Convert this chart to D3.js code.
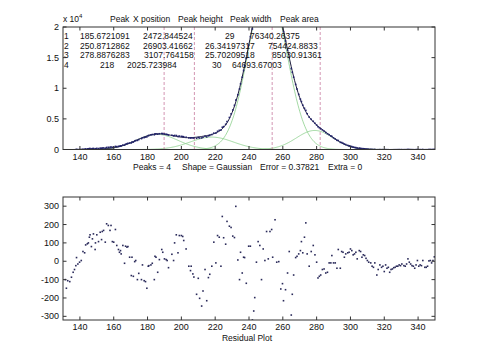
<!DOCTYPE html>
<html>
<head>
<meta charset="utf-8">
<script src="https://cdn.jsdelivr.net/npm/d3@7"></script>
<style>
  body { margin: 0; background: #fff; }
  text { font-family: "Liberation Sans", Arial, sans-serif; fill: #111; }
</style>
</head>
<body>
<script>
// fitted peak parameters (from the results table)
const peakNum = [1, 2, 3, 4];
const peakPos = [185.6721091, 250.8712862, 278.8876283, 218];
const peakHeight = [2472.844524, 26903.41662, 3107.764158, 2025.723984];
const peakWidth = [29, 26.34197317, 25.70209518, 30];
const peakArea = [76340.26375, 754424.8833, 85030.91361, 64693.67003];

// dashed marker lines
const markerX = [189.8, 207.7, 253.7, 282.1];

const xTicks = [140, 160, 180, 200, 220, 240, 260, 280, 300, 320, 340];
const fitTicks = [0, 5000, 10000, 15000, 20000];
const fitTickLabels = ["0", "0.5", "1", "1.5", "2"];
const resTicks = [-300, -200, -100, 0, 100, 200, 300];

// residuals
const resX = [129.4,131.4,132.0,132.8,134.0,135.0,136.0,136.8,137.6,138.0,138.8,139.8,140.8,141.8,142.8,143.4,144.4,145.0,145.6,146.0,
  146.8,147.4,148.0,149.0,149.2,150.0,151.0,152.0,152.8,153.2,154.0,155.0,155.8,156.8,157.8,158.4,159.2,160.0,161.0,161.8,
  162.8,163.4,164.0,164.4,165.4,166.4,167.0,167.8,168.4,169.4,170.4,170.8,171.6,172.4,173.0,174.0,174.8,176.4,177.0,178.0,
  178.8,179.6,180.4,180.8,182.0,182.8,184.0,184.4,185.0,186.0,187.0,188.4,189.0,190.0,191.0,191.6,192.4,194.4,195.4,196.0,
  197.0,198.0,198.8,200.0,200.8,201.4,202.8,204.4,205.4,205.8,206.8,207.4,209.0,210.0,210.8,212.0,212.8,214.0,215.0,216.0,
  216.8,218.0,219.2,220.4,221.4,222.4,223.4,224.2,225.0,226.2,227.0,228.4,229.4,230.4,231.4,232.2,233.4,234.4,235.0,236.0,
  236.8,237.4,238.4,239.8,240.8,242.0,242.8,243.4,244.4,245.4,246.4,247.4,248.4,249.4,250.4,251.4,252.4,253.4,254.0,255.4,
  256.4,257.6,258.8,259.8,260.4,261.6,262.8,263.8,265.0,265.6,266.4,267.6,268.4,269.4,270.4,271.0,271.8,272.8,273.6,274.4,
  275.6,276.8,278.0,279.0,280.0,280.8,281.6,282.4,283.4,284.4,285.4,286.4,287.4,288.4,289.0,290.0,291.0,292.0,292.8,294.0,
  294.8,295.6,296.4,297.2,298.4,299.2,300.0,300.8,301.6,302.4,303.2,304.0,305.2,306.0,306.8,307.6,308.4,309.2,310.0,310.8,
  312.0,312.8,313.6,314.4,315.6,316.4,317.4,318.4,319.2,320.0,320.8,321.6,322.4,323.2,324.0,324.8,325.6,326.4,327.2,328.0,
  328.8,329.6,330.4,331.6,332.4,333.2,334.0,334.8,335.6,336.4,337.2,338.0,338.8,339.6,340.4,341.2,342.0,342.8,344.0,344.8,
  345.6,346.4,347.2,348.0,348.8,349.6];
const resY = [-93,-100,-147,-106,-111,-87,-60,-45,-24,20,-15,-5,4,53,46,89,95,100,131,144,
  80,122,149,64,100,144,107,158,118,162,168,104,204,195,168,195,107,104,173,86,
  64,49,58,40,86,-11,82,77,80,22,-78,22,-82,-2,4,-100,-66,-100,-20,-106,
  -111,-147,-27,-24,-20,-11,-100,27,22,-60,9,64,49,13,9,4,-35,38,4,100,
  144,46,140,140,135,113,67,-27,-51,-27,-69,-86,-180,-93,-202,-244,-162,-45,-215,-89,
  -71,-27,104,-9,140,131,-27,244,128,93,217,191,184,137,129,299,7,-100,49,-64,
  22,20,-120,82,82,-320,-271,-198,-5,107,86,-100,67,4,162,13,162,173,22,226,
  -5,-2,-151,-122,-215,-155,-64,53,-293,-180,-75,20,27,40,58,107,46,131,209,40,
  -27,53,86,35,-5,-91,-82,-75,-45,-42,-64,-60,-9,-9,31,-9,-9,-38,64,-38,
  53,49,22,40,46,49,67,58,35,40,49,13,58,53,22,35,31,16,4,-5,
  -9,-27,-33,-9,-75,-45,-20,-33,-27,-56,-20,-38,-33,-60,-45,-42,-35,-33,-27,-27,
  -20,-24,-15,-24,-27,-15,13,-5,-15,-24,-27,-38,-20,4,-27,-20,-24,4,-33,-33,
  -27,2,4,-9,4,24];

const W = 480, H = 360;
const left = 63, right = 435;
const top1 = 27, bot1 = 149.5;
const top2 = 197, bot2 = 320;

const svg = d3.select("body").append("svg")
  .attr("width", W).attr("height", H);

const x = d3.scaleLinear().domain([130, 350]).range([left, right]);
const y1 = d3.scaleLinear().domain([0, 20000]).range([bot1, top1]);
const y2 = d3.scaleLinear().domain([-320, 350]).range([bot2, top2]);

function gauss(xx, p, h, w) {
  return h * Math.exp(-Math.pow((xx - p) / (0.6005612 * w), 2));
}
function model(xx) {
  let s = 0;
  for (let i = 0; i < peakPos.length; i++) s += gauss(xx, peakPos[i], peakHeight[i], peakWidth[i]);
  return s;
}

const defs = svg.append("defs");
defs.append("clipPath").attr("id", "c1").append("rect")
  .attr("x", left).attr("y", top1).attr("width", right - left).attr("height", bot1 - top1);
defs.append("clipPath").attr("id", "c2").append("rect")
  .attr("x", left).attr("y", top2).attr("width", right - left).attr("height", bot2 - top2);

// frame with inward ticks on all four sides
function frame(yScale, yTicks, yLabels, t, b) {
  const g = svg.append("g");
  g.append("rect").attr("x", left).attr("y", t).attr("width", right - left).attr("height", b - t)
    .attr("fill", "none").attr("stroke", "#333").attr("stroke-width", 1);
  xTicks.forEach(v => {
    g.append("line").attr("x1", x(v)).attr("x2", x(v)).attr("y1", b).attr("y2", b - 3.5).attr("stroke", "#333");
    g.append("line").attr("x1", x(v)).attr("x2", x(v)).attr("y1", t).attr("y2", t + 3.5).attr("stroke", "#333");
    g.append("text").attr("x", x(v)).attr("y", b + 10).attr("text-anchor", "middle")
      .style("font-size", "9px").text(v);
  });
  yTicks.forEach((v, i) => {
    g.append("line").attr("x1", left).attr("x2", left + 3.5).attr("y1", yScale(v)).attr("y2", yScale(v)).attr("stroke", "#333");
    g.append("line").attr("x1", right).attr("x2", right - 3.5).attr("y1", yScale(v)).attr("y2", yScale(v)).attr("stroke", "#333");
    g.append("text").attr("x", left - 4).attr("y", yScale(v) + 3).attr("text-anchor", "end")
      .style("font-size", "9px").text(yLabels[i]);
  });
}

// ---- top plot ----
const fine = d3.range(130, 350.01, 0.5);
const plot1 = svg.append("g").attr("clip-path", "url(#c1)");

peakPos.forEach((p, i) => {
  plot1.append("path")
    .datum(fine)
    .attr("fill", "none").attr("stroke", "#8ccf8c").attr("stroke-width", 0.8)
    .attr("d", d3.line().x(d => x(d)).y(d => y1(gauss(d, p, peakHeight[i], peakWidth[i]))));
});

markerX.forEach(v => {
  plot1.append("line").attr("x1", x(v)).attr("x2", x(v)).attr("y1", top1).attr("y2", bot1)
    .attr("stroke", "#c87a9e").attr("stroke-width", 0.8).attr("stroke-dasharray", "3,2");
});

plot1.append("path")
  .datum(fine)
  .attr("fill", "none").attr("stroke", "#1b1b3a").attr("stroke-width", 1)
  .attr("d", d3.line().x(d => x(d)).y(d => y1(model(d))));

plot1.selectAll(".obs")
  .data(resX.map((v, i) => [v, model(v) + resY[i]]))
  .enter().append("rect")
  .attr("x", d => x(d[0]) - 0.8).attr("y", d => y1(d[1]) - 0.8)
  .attr("width", 1.6).attr("height", 1.6).attr("fill", "#22226a");

frame(y1, fitTicks, fitTickLabels, top1, bot1);

svg.append("text").attr("x", 63).attr("y", 22).style("font-size", "8.5px").text("x 10");
svg.append("text").attr("x", 79).attr("y", 18).style("font-size", "6px").text("4");

// header and results table
const headers = [["Peak", 110], ["X position", 133], ["Peak height", 178], ["Peak width", 230], ["Peak area", 280]];
headers.forEach(h => {
  svg.append("text").attr("x", h[1]).attr("y", 22).style("font-size", "8.5px").text(h[0]);
});

const colX = [[64, 80, 143, 225, 250], [64, 80, 143, 205, 268], [64, 80, 144, 205, 272], [64, 100, 127, 212, 232]];
const rowY = [39, 48.5, 58, 67.5];
peakNum.forEach((n, i) => {
  const cells = [n, peakPos[i], peakHeight[i], peakWidth[i], peakArea[i]];
  cells.forEach((c, j) => {
    svg.append("text").attr("x", colX[i][j]).attr("y", rowY[i])
      .style("font-size", "8.5px").text(String(c));
  });
});

const stats = [["Peaks = 4", 133], ["Shape = Gaussian", 182], ["Error = 0.37821", 260], ["Extra = 0", 328]];
stats.forEach(s => {
  svg.append("text").attr("x", s[1]).attr("y", 170).style("font-size", "8.5px").text(s[0]);
});

// ---- residual plot ----
const plot2 = svg.append("g").attr("clip-path", "url(#c2)");
plot2.selectAll(".res")
  .data(resX.map((v, i) => [v, resY[i]]))
  .enter().append("rect")
  .attr("x", d => x(d[0]) - 0.8).attr("y", d => y2(d[1]) - 0.8)
  .attr("width", 1.6).attr("height", 1.6).attr("fill", "#2a2a5a");

frame(y2, resTicks, resTicks.map(String), top2, bot2);

svg.append("text").attr("x", 247).attr("y", 341).attr("text-anchor", "middle")
  .style("font-size", "8.5px").text("Residual Plot");
</script>
</body>
</html>
